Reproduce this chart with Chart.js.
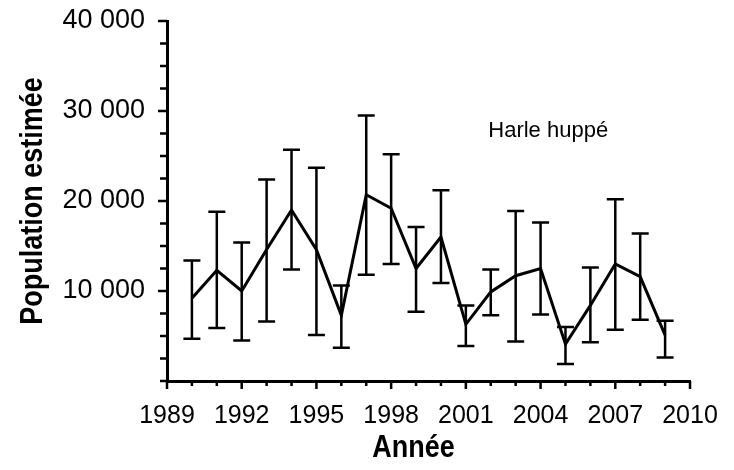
<!DOCTYPE html>
<html>
<head>
<meta charset="utf-8">
<script src="https://cdn.jsdelivr.net/npm/chart.js@4.4.0/dist/chart.umd.min.js"></script>
<style>
  html, body { margin: 0; padding: 0; background: #fff; }
</style>
</head>
<body>
<canvas id="chart" width="734" height="470"></canvas>
<script>
// Survey years and estimates
const years = [1990, 1991, 1992, 1993, 1994, 1995, 1996, 1997, 1998, 1999,
               2000, 2001, 2002, 2003, 2004, 2005, 2006, 2007, 2008, 2009];
const estimates = [9200, 12300, 10000, 14600, 19000, 14600, 7300, 20700, 19200, 12500,
                   16000, 6300, 9900, 11700, 12500, 4100, 8400, 13000, 11600, 5100];
const lowerBounds = [4700, 5900, 4500, 6600, 12400, 5100, 3700, 11800, 13000, 7700,
                     10900, 3900, 7300, 4400, 7400, 1900, 4300, 5700, 6800, 2600];
const upperBounds = [13400, 18800, 15400, 22400, 25700, 23700, 10600, 29500, 25200, 17100,
                     21200, 8400, 12400, 18900, 17600, 6000, 12600, 20200, 16400, 6700];

const xLabelYears = [1989, 1992, 1995, 1998, 2001, 2004, 2007, 2010];
const yLabelValues = [10000, 20000, 30000, 40000];
const speciesName = 'Harle huppé';
const xTitle = 'Année';
const yTitle = 'Population estimée';

const sans = '"Liberation Sans", Arial, sans-serif';

function formatThousands(v) {
  return (v / 1000) + ' 000';
}

// error bars with caps
const errorBars = {
  id: 'errorBars',
  afterDatasetsDraw(chart) {
    const { ctx, scales: { x, y } } = chart;
    const cap = 8.5;
    ctx.save();
    ctx.strokeStyle = '#000';
    ctx.lineWidth = 2.5;
    years.forEach((yr, i) => {
      const px = x.getPixelForValue(yr);
      const top = y.getPixelForValue(upperBounds[i]);
      const bot = y.getPixelForValue(lowerBounds[i]);
      ctx.beginPath();
      ctx.moveTo(px, top); ctx.lineTo(px, bot);
      ctx.moveTo(px - cap, top); ctx.lineTo(px + cap, top);
      ctx.moveTo(px - cap, bot); ctx.lineTo(px + cap, bot);
      ctx.stroke();
    });
    ctx.restore();
  }
};

// narrow bold title: Liberation Sans Bold squeezed sideways
function narrowText(ctx, text, x, y, rot) {
  ctx.save();
  ctx.translate(x, y);
  ctx.rotate(rot);
  ctx.scale(0.87, 1);
  ctx.font = 'bold 31px ' + sans;
  ctx.textAlign = 'center';
  ctx.textBaseline = 'alphabetic';
  ctx.fillStyle = '#000';
  ctx.fillText(text, 0, 0);
  ctx.restore();
}

// outward tick marks (longer on labelled ticks), axis titles, species label
const decorations = {
  id: 'decorations',
  afterDraw(chart) {
    const { ctx, chartArea, scales: { x, y } } = chart;
    ctx.save();
    ctx.strokeStyle = '#000';
    ctx.lineWidth = 2.5;
    ctx.beginPath();
    x.ticks.forEach(t => {
      const px = x.getPixelForValue(t.value);
      const len = xLabelYears.includes(t.value) ? 8 : 5;
      ctx.moveTo(px, x.top); ctx.lineTo(px, x.top + len);
    });
    y.ticks.forEach(t => {
      const py = y.getPixelForValue(t.value);
      const len = yLabelValues.includes(t.value) ? 9 : 7;
      ctx.moveTo(y.right, py); ctx.lineTo(y.right - len, py);
    });
    ctx.stroke();

    const midX = (chartArea.left + chartArea.right) / 2;
    const midY = (chartArea.top + chartArea.bottom) / 2;
    narrowText(ctx, xTitle, midX - 15, chartArea.bottom + 76, 0);
    narrowText(ctx, yTitle, 42, midY, -Math.PI / 2);

    ctx.fillStyle = '#000';
    ctx.font = '22px ' + sans;
    ctx.textAlign = 'left';
    ctx.textBaseline = 'alphabetic';
    ctx.fillText(speciesName, x.getPixelForValue(2001.9), y.getPixelForValue(27100));
    ctx.restore();
  }
};

new Chart(document.getElementById('chart'), {
  type: 'line',
  data: {
    datasets: [{
      data: years.map((yr, i) => ({ x: yr, y: estimates[i] })),
      borderColor: '#000',
      borderWidth: 3,
      pointRadius: 0,
      tension: 0,
      fill: false
    }]
  },
  options: {
    responsive: false,
    animation: false,
    devicePixelRatio: 1,
    layout: { padding: 0 },
    plugins: {
      legend: { display: false },
      tooltip: { enabled: false }
    },
    scales: {
      x: {
        type: 'linear',
        min: 1989,
        max: 2010,
        afterFit(scale) {
          scale.height = 89;
          scale.paddingLeft = 0;
          scale.paddingRight = 44;
        },
        grid: { display: false, drawTicks: false },
        border: { display: true, color: '#000', width: 3 },
        ticks: {
          stepSize: 1,
          autoSkip: false,
          maxRotation: 0,
          padding: 20,
          color: '#000',
          font: { family: sans, size: 25 },
          callback: v => xLabelYears.includes(v) ? String(v) : ''
        }
      },
      y: {
        min: 0,
        max: 40000,
        afterFit(scale) {
          scale.width = 167;
          scale.paddingTop = 21;
          scale.paddingBottom = 0;
        },
        grid: { display: false, drawTicks: false },
        border: { display: true, color: '#000', width: 3 },
        ticks: {
          stepSize: 2500,
          autoSkip: false,
          padding: 22,
          color: '#000',
          font: { family: sans, size: 27 },
          callback: v => yLabelValues.includes(v) ? formatThousands(v) : ''
        }
      }
    }
  },
  plugins: [errorBars, decorations]
});
</script>
</body>
</html>
